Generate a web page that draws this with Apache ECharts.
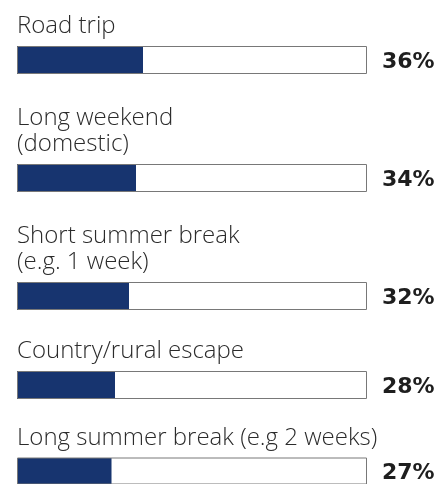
<!DOCTYPE html>
<html>
<head>
<meta charset="utf-8">
<script src="https://cdn.jsdelivr.net/npm/echarts@6/dist/echarts.min.js"></script>
<style>
html,body{margin:0;padding:0;background:#fff;}
#chart{width:443px;height:484px;}
</style>
</head>
<body>
<div id="chart"></div>
<script>
// Data
const categories = [
  'Road trip',
  'Long weekend\n(domestic)',
  'Short summer break\n(e.g. 1 week)',
  'Country/rural escape',
  'Long summer break (e.g 2 weeks)'
];
const values = [36, 34, 32, 28, 27];
const fullScale = [100, 100, 100, 100, 100];

// Layout
const barTops = [46, 164, 282, 371, 458];
const barH = 28;
const lineH = 26.7;

const grids = [], xAxes = [], yAxes = [], series = [], titles = [];
categories.forEach((cat, i) => {
  grids.push({ left: 17, width: 350, top: barTops[i], height: barH });
  xAxes.push({ gridIndex: i, type: 'value', min: 0, max: 100, show: false });
  yAxes.push({ gridIndex: i, type: 'category', data: [cat], show: false });
  series.push({
    type: 'bar', xAxisIndex: i, yAxisIndex: i, data: [values[i]],
    barWidth: barH, barGap: '-100%', silent: true,
    itemStyle: { color: '#17346f' }
  });
  series.push({
    type: 'bar', xAxisIndex: i, yAxisIndex: i, data: [fullScale[i]],
    barWidth: barH, barGap: '-100%', silent: true,
    itemStyle: { color: 'rgba(0,0,0,0)', borderColor: '#787878', borderWidth: 1 },
    label: {
      show: true, position: 'right', distance: 15, offset: [0, 2],
      formatter: () => values[i] + '%',
      fontFamily: 'DejaVu Sans', fontWeight: 'bold', fontSize: 22, color: '#1e1e1e'
    }
  });
  const lines = cat.split('\n').length;
  titles.push({
    text: cat, left: 17, top: barTops[i] - 6 - lines * lineH, padding: 0,
    textStyle: { fontFamily: 'Open Sans', fontWeight: 300, fontSize: 24, lineHeight: lineH, color: '#2b2b2b' }
  });
});

const chart = echarts.init(document.getElementById('chart'), null, { renderer: 'canvas' });
chart.setOption({
  animation: false,
  backgroundColor: '#fff',
  title: titles,
  grid: grids,
  xAxis: xAxes,
  yAxis: yAxes,
  series: series
});
</script>
</body>
</html>
